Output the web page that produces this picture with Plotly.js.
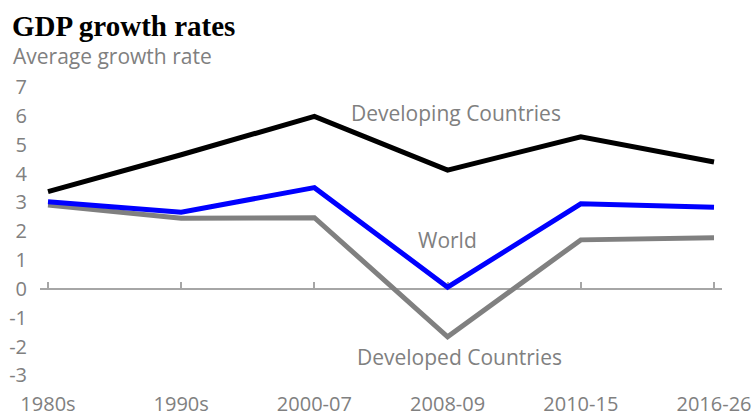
<!DOCTYPE html>
<html>
<head>
<meta charset="utf-8">
<script src="https://cdn.plot.ly/plotly-3.0.1.min.js"></script>
<style>html,body{margin:0;padding:0;background:#fff;}#chart{width:756px;height:417px;}</style>
</head>
<body>
<div id="chart"></div>
<script>
const periods = ['1980s', '1990s', '2000-07', '2008-09', '2010-15', '2016-26'];
const developing = [3.37, 4.65, 5.98, 4.12, 5.27, 4.40];
const world = [3.02, 2.66, 3.51, 0.06, 2.95, 2.83];
const developed = [2.91, 2.45, 2.47, -1.66, 1.70, 1.77];
const yTicks = [-3, -2, -1, 0, 1, 2, 3, 4, 5, 6, 7];

const yMin = -3.4, yMax = 7.415;
const FONT = 'Open Sans, sans-serif';
const GRAY = '#808080';

const traces = [
  {x: periods, y: developed, type: 'scatter', mode: 'lines', line: {color: '#808080', width: 5}, hoverinfo: 'skip', showlegend: false},
  {x: periods, y: world, type: 'scatter', mode: 'lines', line: {color: '#0000ff', width: 5}, hoverinfo: 'skip', showlegend: false},
  {x: periods, y: developing, type: 'scatter', mode: 'lines', line: {color: '#000000', width: 5}, hoverinfo: 'skip', showlegend: false}
];

const layout = {
  width: 756, height: 417,
  margin: {l: 40, r: 34, t: 75, b: 30, pad: 0},
  paper_bgcolor: '#ffffff', plot_bgcolor: '#ffffff',
  showlegend: false,
  title: {
    text: '<b>GDP growth rates</b>',
    font: {family: 'Liberation Serif, serif', size: 29, color: '#000000'},
    xref: 'container', yref: 'container',
    x: 12 / 756, xanchor: 'left',
    y: 1 - 26 / 417, yanchor: 'middle'
  },
  xaxis: {
    type: 'category',
    range: [-0.06, 5.06],
    anchor: 'free',
    position: (0 - yMin) / (yMax - yMin),
    showline: true, linecolor: '#a6a6a6', linewidth: 2,
    ticks: 'inside', ticklen: 6, tickwidth: 2, tickcolor: '#a6a6a6',
    showgrid: false, zeroline: false,
    tickfont: {family: FONT, size: 20, color: GRAY},
    ticklabelstandoff: 97,
    layer: 'below traces'
  },
  yaxis: {
    range: [yMin, yMax],
    tickvals: yTicks,
    ticktext: yTicks.map(String),
    showline: false, ticks: '', showgrid: false, zeroline: false,
    tickfont: {family: FONT, size: 20, color: GRAY},
    ticklabelstandoff: 12
  },
  annotations: [
    {text: 'Average growth rate', xref: 'paper', yref: 'paper', x: -29 / 682, xanchor: 'left',
     y: 1 + (75 - 56) / 312, yanchor: 'middle', showarrow: false,
     font: {family: FONT, size: 21, color: GRAY}},
    {text: 'Developing Countries', x: 3.06, y: 6.1, xref: 'x', yref: 'y', showarrow: false,
     font: {family: FONT, size: 21, color: GRAY}},
    {text: 'World', x: 3.0, y: 1.7, xref: 'x', yref: 'y', showarrow: false,
     font: {family: FONT, size: 21, color: GRAY}},
    {text: 'Developed Countries', x: 3.09, y: -2.36, xref: 'x', yref: 'y', showarrow: false,
     font: {family: FONT, size: 21, color: GRAY}}
  ]
};

Plotly.newPlot('chart', traces, layout, {staticPlot: true, displayModeBar: false});
</script>
</body>
</html>
